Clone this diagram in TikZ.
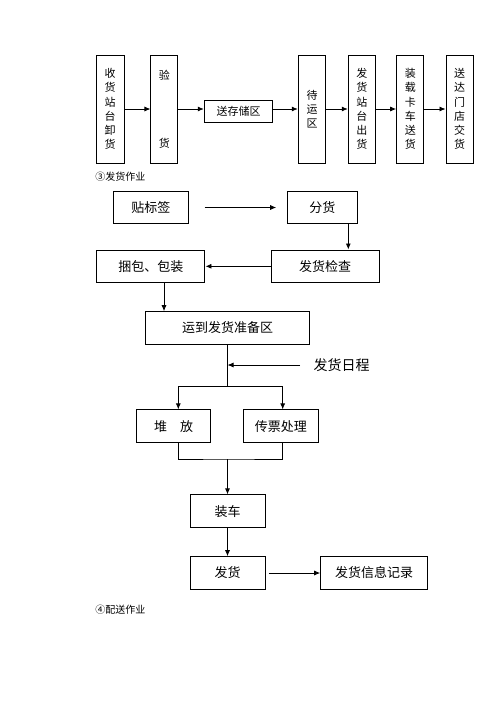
\documentclass[tikz,border=0pt]{standalone}
\usepackage{fontspec}
\setmainfont{Noto Sans CJK SC}
\usetikzlibrary{arrows.meta,calc,positioning}

\begin{document}
\begin{tikzpicture}[x=1pt,y=-1pt,>={Latex[length=6pt,width=5pt]},line width=0.8pt,
	tallbox/.style={draw,line width=1pt,minimum height=108,inner sep=0pt,align=center,font=\fontsize{11}{14.2}\selectfont},
	box/.style={draw,line width=1pt,minimum height=32.6,inner sep=0pt,font=\fontsize{13}{15}\selectfont},
	caption/.style={anchor=west,inner sep=0pt,font=\fontsize{10}{12}\selectfont}]
	\useasboundingbox (0,0) rectangle (500,707);
	% top row
	\node[tallbox,minimum width=28.3]	(shou)	at (110.2,109)	{收\\货\\站\\台\\卸\\货};
	\node[tallbox,minimum width=26.7]	(yan)	at (164.3,109)	{验\\[54pt]货};
	\node[draw,line width=1pt,minimum width=68.4,minimum height=21.6,inner sep=0pt,font=\fontsize{11}{13}\selectfont]	(cun)	at (238.5,111.5)	{送存储区};
	\node[tallbox,minimum width=27.4]	(dai)	at (312,109)	{待\\运\\区};
	\node[tallbox,minimum width=27]	(zhan)	at (361.8,109)	{发\\货\\站\\台\\出\\货};
	\node[tallbox,minimum width=27.3]	(ka)	at (410.3,109)	{装\\载\\卡\\车\\送\\货};
	\node[tallbox,minimum width=27.3]	(men)	at (459.7,109)	{送\\达\\门\\店\\交\\货};
	\draw[->]	(shou) -- (shou -| yan.west);
	\draw[->]	(yan) -- (yan -| cun.west);
	\draw[->]	(cun.east |- dai) -- (dai.west);
	\draw[->]	(dai) -- (zhan);
	\draw[->]	(zhan) -- (ka);
	\draw[->]	(ka) -- (men);
	\node[caption]	(fahuo)	at (95,177)	{③发货作业};
	% shipping flow
	\node[box,minimum width=75]	(tie)	at (150.8,207.5)	{贴标签};
	\node[box,minimum width=70]	(fen)	at (322.3,207.5)	{分货};
	\node[box,minimum width=108]	(jian)	at (325,266.3)	{发货检查};
	\node[box,minimum width=108.3]	(kun)	at (150.8,266.3)	{捆包、包装};
	\node[box,minimum width=163.6]	(zb)	at (227.5,328)	{运到发货准备区};
	\node[anchor=west,font=\fontsize{14}{16}\selectfont]	(rc)	at (310,365)	{发货日程};
	\node[box,minimum width=74]	(dui)	at (173.7,426.2)	{堆\hspace{1em}放};
	\node[box,minimum width=75]	(chuan)	at (280.8,426.2)	{传票处理};
	\node[box,minimum width=75]	(zc)	at (227.5,511.2)	{装车};
	\node[box,minimum width=75]	(fh)	at (227.5,573)	{发货};
	\node[box,minimum width=107]	(jl)	at (374.2,573)	{发货信息记录};
	\coordinate (fork) at (227.5,386.7);
	\coordinate (join) at (227.5,459);
	\draw[->,shorten <=15.7pt,shorten >=10.6pt]	(tie) -- (fen);
	\draw[->]	([xshift=26pt]fen.south) -- ([xshift=26pt]fen.south |- jian.north);
	\draw[->]	(jian) -- (kun);
	\draw[->]	([xshift=13.2pt]kun.south) -- ([xshift=13.2pt]kun.south |- zb.north);
	\draw	(zb.south) -- (fork);
	\draw[->,shorten <=10pt]	(rc.west) -- (rc.west -| zb.south);
	\draw[->]	(fork) -| ([xshift=4.6pt]dui.north);
	\draw[->]	(fork) -| ([xshift=1.9pt]chuan.north);
	\draw	([xshift=4.6pt]dui.south) |- (join) -| ([xshift=1.9pt]chuan.south);
	\draw[->]	(join) -- (zc);
	\draw[->]	(zc) -- (fh);
	\draw[->,shorten <=3.3pt]	(fh) -- (jl);
	\node[caption]	(peisong)	at (95,609.3)	{④配送作业};
\end{tikzpicture}
\end{document}
